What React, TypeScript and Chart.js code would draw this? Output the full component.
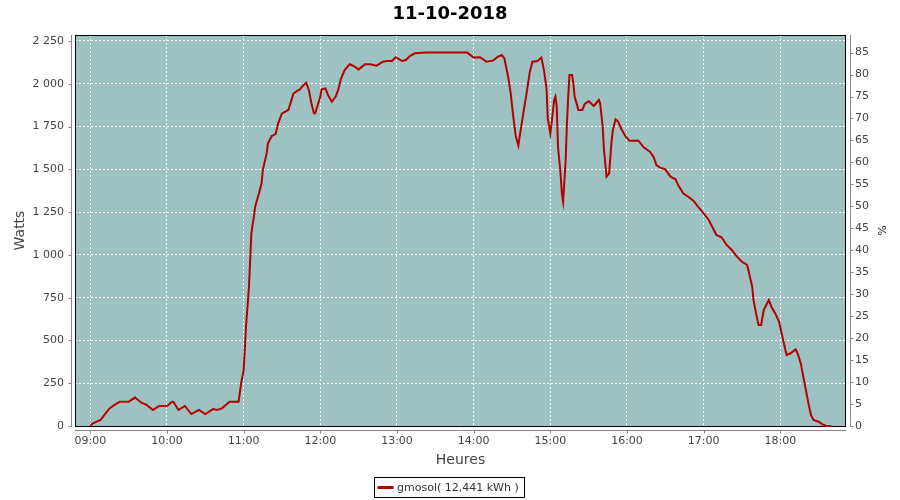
import React, { useEffect, useRef } from "react";
import { Chart, registerables } from "chart.js";

Chart.register(...registerables);

const TITLE = "11-10-2018";
const SERIES_LABEL = "gmosol( 12,441 kWh )";
const X_TITLE = "Heures";
const Y_TITLE = "Watts";
const Y1_TITLE = "%";
const START_HOUR = 9;

// minutes after 09:00
const minutes = [
  0, 2, 8, 10, 13, 15, 19, 23, 30, 35, 40, 44, 49, 54, 60, 64, 65, 69, 74, 79,
  85, 90, 96, 99, 103, 109, 116, 118, 120, 121, 122, 124, 125, 126, 128, 129, 132, 134, 135, 138,
  139, 142, 145, 147, 150, 155, 159, 162, 164, 167, 169, 171, 173, 175, 176, 180, 181, 184, 186, 189,
  192, 194, 196, 199, 203, 206, 210, 215, 219, 224, 229, 232, 236, 239, 244, 247, 250, 254, 263, 295,
  300, 305, 310, 315, 319, 322, 324, 327, 329, 331, 333, 335, 336, 338, 341, 344, 346, 350, 353, 355,
  357, 358, 360, 361, 363, 364, 365, 366, 368, 369, 370, 372, 373, 374, 375, 377, 378, 379, 382, 385,
  387, 390, 394, 398, 399, 401, 402, 404, 406, 408, 409, 411, 413, 416, 419, 422, 429, 433, 438, 441,
  443, 446, 450, 454, 458, 460, 464, 468, 472, 476, 480, 484, 488, 490, 494, 498, 502, 506, 510, 514,
  515, 518, 519, 521, 523, 525, 527, 531, 533, 536, 539, 541, 544, 545, 548, 552, 554, 556, 558, 560,
  562, 564, 566, 570, 573, 576, 580,
];

const watts = [
  0, 16, 35, 55, 84, 103, 123, 142, 142, 166, 136, 123, 94, 117, 117, 142, 141, 94, 117, 70,
  94, 70, 99, 94, 103, 142, 142, 249, 327, 464, 600, 795, 951, 1126, 1223, 1282, 1360, 1418, 1496, 1593,
  1652, 1695, 1706, 1769, 1827, 1847, 1944, 1958, 1967, 1993, 2006, 1964, 1886, 1827, 1827, 1925, 1967, 1973, 1934, 1895,
  1925, 1964, 2026, 2080, 2114, 2104, 2084, 2114, 2114, 2106, 2129, 2133, 2133, 2155, 2133, 2139, 2162, 2178, 2182, 2182,
  2153, 2155, 2129, 2135, 2158, 2168, 2149, 2041, 1944, 1808, 1691, 1638, 1691, 1788, 1925, 2071, 2129, 2133, 2153, 2080,
  1973, 1798, 1710, 1769, 1905, 1925, 1866, 1632, 1477, 1360, 1311, 1554, 1769, 1925, 2051, 2051, 2003, 1925, 1847, 1847,
  1882, 1899, 1870, 1905, 1886, 1749, 1613, 1457, 1477, 1671, 1730, 1792, 1779, 1730, 1691, 1667, 1667, 1629, 1603, 1570,
  1525, 1510, 1500, 1457, 1442, 1408, 1360, 1340, 1317, 1278, 1243, 1204, 1145, 1116, 1103, 1058, 1029, 990, 960, 941,
  912, 814, 736, 658, 590, 590, 678, 736, 697, 658, 610, 542, 444, 415, 425, 448, 415, 366, 288, 210,
  132, 64, 35, 25, 10, 0, 0,
];

const xTickMinutes = [0, 60, 120, 180, 240, 300, 360, 420, 480, 540];
const wattTicks = [0, 250, 500, 750, 1000, 1250, 1500, 1750, 2000, 2250];
const pctTicks = [0, 5, 10, 15, 20, 25, 30, 35, 40, 45, 50, 55, 60, 65, 70, 75, 80, 85];

const FONT = "'DejaVu Sans', sans-serif";
const PLOT_BG = "#9ec2c2";
const LINE_COLOR = "#b40000";
const AXIS_COLOR = "#888888";
const TEXT_COLOR = "#444444";

const fmtTime = (m: number) => {
  const t = START_HOUR * 60 + m;
  const hh = Math.floor(t / 60);
  const mm = Math.round(t % 60);
  return String(hh).padStart(2, "0") + ":" + String(mm).padStart(2, "0");
};
const fmtThousands = (v: number) => String(v).replace(/\B(?=(\d{3})+(?!\d))/g, " ");

const decor = {
  id: "decor",
  beforeDraw(chart: any) {
    const { ctx, chartArea: a } = chart;
    ctx.save();
    ctx.fillStyle = PLOT_BG;
    ctx.fillRect(a.left, a.top, a.right - a.left, a.bottom - a.top);
    ctx.restore();
  },
  beforeDatasetsDraw(chart: any) {
    const { ctx, chartArea: a, scales } = chart;
    ctx.save();
    // plot border
    ctx.strokeStyle = "#000";
    ctx.lineWidth = 1;
    ctx.strokeRect(a.left + 0.5, a.top + 0.5, a.right - a.left - 1, a.bottom - a.top);
    // axis lines offset from plot
    ctx.strokeStyle = AXIS_COLOR;
    ctx.beginPath();
    const lx = a.left - 3.5;
    ctx.moveTo(lx, a.top);
    ctx.lineTo(lx, a.bottom + 1);
    const rx = a.right + 4.5;
    ctx.moveTo(rx, a.top);
    ctx.lineTo(rx, a.bottom + 1);
    const by = a.bottom + 4.5;
    ctx.moveTo(a.left, by);
    ctx.lineTo(a.right, by);
    // tick marks
    scales.y.ticks.forEach((t: any) => {
      const p = Math.round(scales.y.getPixelForValue(t.value)) + 0.5;
      ctx.moveTo(lx - 3, p);
      ctx.lineTo(lx, p);
    });
    scales.y1.ticks.forEach((t: any) => {
      const p = Math.round(scales.y1.getPixelForValue(t.value)) + 0.5;
      ctx.moveTo(rx, p);
      ctx.lineTo(rx + 3, p);
    });
    scales.x.ticks.forEach((t: any) => {
      const p = Math.round(scales.x.getPixelForValue(t.value)) + 0.5;
      ctx.moveTo(p, by);
      ctx.lineTo(p, by + 3);
    });
    ctx.stroke();
    ctx.restore();
  },
  afterDraw(chart: any) {
    const { ctx } = chart;
    ctx.save();
    ctx.font = "11px " + FONT;
    const tw = ctx.measureText(SERIES_LABEL).width;
    const boxW = Math.round(tw + 28);
    const boxH = 20;
    const cx = chart.width / 2 - 1.5;
    const bx = Math.round(cx - boxW / 2) + 0.5;
    const byy = 477.5;
    ctx.strokeStyle = "#000";
    ctx.lineWidth = 1;
    ctx.strokeRect(bx, byy, boxW, boxH);
    ctx.strokeStyle = LINE_COLOR;
    ctx.lineWidth = 3;
    ctx.beginPath();
    ctx.moveTo(bx + 3, byy + boxH / 2);
    ctx.lineTo(bx + 19, byy + boxH / 2);
    ctx.stroke();
    ctx.fillStyle = "#333";
    ctx.textBaseline = "middle";
    ctx.textAlign = "left";
    ctx.fillText(SERIES_LABEL, bx + 22.5, byy + boxH / 2 + 0.5);
    ctx.restore();
  },
};

export default function App() {
  const ref = useRef<HTMLCanvasElement | null>(null);
  useEffect(() => {
    if (!ref.current) return;
    Chart.defaults.font.family = FONT;
    const chart = new Chart(ref.current, {
      type: "line",
      data: {
        datasets: [
          {
            label: SERIES_LABEL,
            data: minutes.map((m, i) => ({ x: m, y: watts[i] })),
            borderColor: LINE_COLOR,
            backgroundColor: LINE_COLOR,
            borderWidth: 2,
            pointRadius: 0,
            tension: 0,
            yAxisID: "y",
            clip: false as any,
          },
        ],
      },
      options: {
        responsive: false,
        animation: false,
        layout: { padding: { left: 0, right: 0, top: 0, bottom: 30 } },
        plugins: {
          legend: { display: false },
          tooltip: { enabled: false },
          title: {
            display: true,
            text: TITLE,
            color: "#000",
            font: { size: 18, weight: "bold", family: FONT },
            padding: { top: 3.2, bottom: 10.2 },
          },
        },
        scales: {
          x: {
            type: "linear",
            min: -12,
            max: 591.4,
            afterBuildTicks: (s: any) => {
              s.ticks = xTickMinutes.map((v) => ({ value: v }));
            },
            afterFit: (s: any) => {
              s.height = 44;
            },
            ticks: {
              autoSkip: false,
              maxRotation: 0,
              padding: 9,
              color: TEXT_COLOR,
              font: { size: 11, family: FONT },
              callback: (v: any) => fmtTime(Number(v)),
            },
            grid: { color: "#ffffff", lineWidth: 1, drawTicks: false },
            border: { display: false, dash: [2, 2] },
            title: {
              display: true,
              text: X_TITLE,
              color: TEXT_COLOR,
              font: { size: 14, family: FONT },
              padding: { top: 0, bottom: 1.5 },
            },
          },
          y: {
            type: "linear",
            position: "left",
            min: 0,
            max: 2285,
            afterBuildTicks: (s: any) => {
              s.ticks = wattTicks.map((v) => ({ value: v }));
            },
            afterFit: (s: any) => {
              s.width = 75;
            },
            ticks: {
              autoSkip: false,
              padding: 11,
              color: TEXT_COLOR,
              font: { size: 11, family: FONT },
              callback: (v: any) => fmtThousands(Number(v)),
            },
            grid: { color: "#ffffff", lineWidth: 1, drawTicks: false },
            border: { display: false, dash: [2, 2] },
            title: {
              display: true,
              text: Y_TITLE,
              color: TEXT_COLOR,
              font: { size: 14, family: FONT },
              padding: { top: 12, bottom: 0 },
            },
          },
          y1: {
            type: "linear",
            position: "right",
            min: 0,
            max: 89,
            afterBuildTicks: (s: any) => {
              s.ticks = pctTicks.map((v) => ({ value: v }));
            },
            afterFit: (s: any) => {
              s.width = 54;
            },
            ticks: {
              autoSkip: false,
              padding: 9,
              color: TEXT_COLOR,
              font: { size: 11, family: FONT },
              callback: (v: any) => String(v),
            },
            grid: { display: false, drawTicks: false },
            border: { display: false },
            title: {
              display: true,
              text: Y1_TITLE,
              color: "#222",
              font: { size: 11, family: FONT },
              padding: { top: 12.4, bottom: 0 },
            },
          },
        },
      },
      plugins: [decor],
    } as any);
    return () => chart.destroy();
  }, []);

  return (
    <div style={{ position: "absolute", left: 0, top: 0, width: 900, height: 500, background: "#fff" }}>
      <canvas ref={ref} width={900} height={500} style={{ display: "block", width: 900, height: 500 }} />
    </div>
  );
}
